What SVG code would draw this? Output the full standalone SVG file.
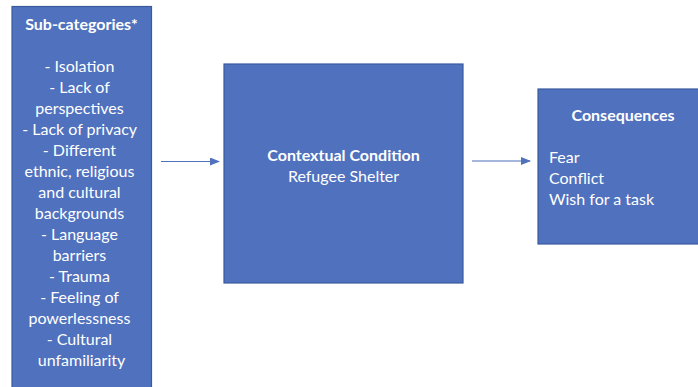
<svg xmlns="http://www.w3.org/2000/svg" width="698" height="387" viewBox="0 0 698 387">
<defs>
<style>
.box{fill:#4F71BE;stroke:#3A5A9E;stroke-width:1.2}
.t{font-family:Lato,"Liberation Sans",sans-serif;font-size:16px;fill:#fff}
.b{font-weight:bold}
.c{text-anchor:middle}
.conn{stroke:#4F71BE;stroke-width:1.2;fill:none}
</style>
<marker id="ah" markerWidth="10" markerHeight="8" refX="9" refY="4" orient="auto" markerUnits="userSpaceOnUse">
<path d="M0,0 L10,4 L0,8 Z" fill="#4F71BE"/>
</marker>
</defs>
<rect width="698" height="387" fill="#fff"/>
<g id="subcategories">
<rect class="box" x="12" y="6.5" width="139.5" height="390"/>
<text class="t b c" x="81.5" y="30">Sub-categories*</text>
<text class="t c" x="81.5">
<tspan x="81.5" y="72">- Isolation</tspan>
<tspan x="81.5" y="93">- Lack of</tspan>
<tspan x="81.5" y="114">perspectives</tspan>
<tspan x="81.5" y="135">- Lack of privacy</tspan>
<tspan x="81.5" y="156">- Different</tspan>
<tspan x="81.5" y="177">ethnic, religious</tspan>
<tspan x="81.5" y="198">and cultural</tspan>
<tspan x="81.5" y="219">backgrounds</tspan>
<tspan x="81.5" y="240">- Language</tspan>
<tspan x="81.5" y="261">barriers</tspan>
<tspan x="81.5" y="282">- Trauma</tspan>
<tspan x="81.5" y="303">- Feeling of</tspan>
<tspan x="81.5" y="324">powerlessness</tspan>
<tspan x="81.5" y="345">- Cultural</tspan>
<tspan x="81.5" y="366">unfamiliarity</tspan>
</text>
</g>
<g id="context">
<rect class="box" x="224" y="64" width="239" height="219"/>
<text class="t b c" x="343.5" y="161">Contextual Condition</text>
<text class="t c" x="343.5" y="182">Refugee Shelter</text>
</g>
<g id="consequences">
<rect class="box" x="538" y="89" width="170" height="155"/>
<text class="t b c" x="623" y="121">Consequences</text>
<text class="t" x="549" y="163">Fear</text>
<text class="t" x="549" y="184">Conflict</text>
<text class="t" x="549" y="205">Wish for a task</text>
</g>
<g id="connectors">
<line class="conn" x1="161" y1="161.5" x2="219" y2="161.5" marker-end="url(#ah)"/>
<line class="conn" x1="472" y1="161" x2="530" y2="161" marker-end="url(#ah)"/>
</g>
</svg>
